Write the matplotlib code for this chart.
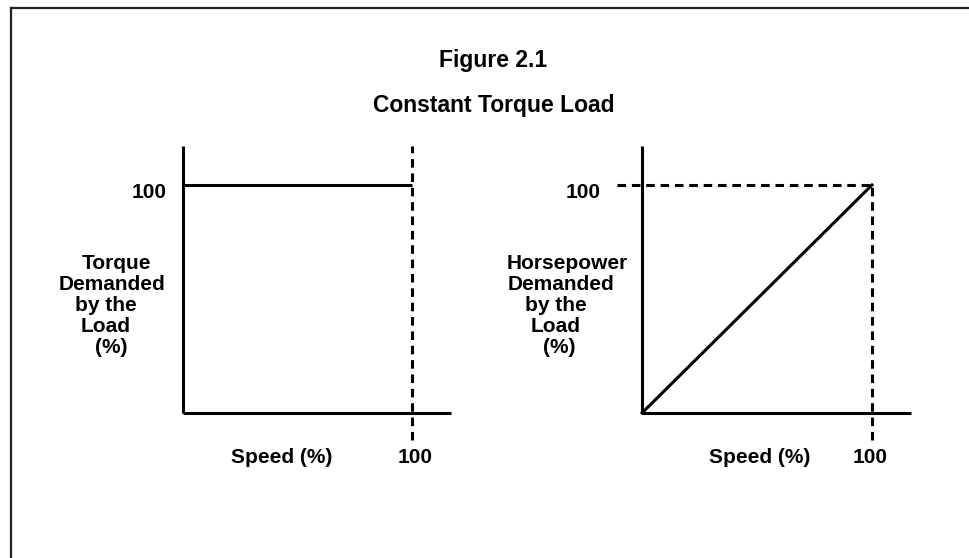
import matplotlib
matplotlib.use("Agg")
import matplotlib.pyplot as plt
from matplotlib.lines import Line2D

plt.rcParams['font.family'] = ['Liberation Sans', 'DejaVu Sans']
plt.rcParams['font.weight'] = 'bold'

# data (percent)
speed = [0, 100]
torque = [100, 100]
horsepower = [0, 100]
tick_label = "100"
axis_end = 117
dash_low = -12

title1 = "Figure 2.1"
title2 = "Constant Torque Load"
ylabel_left = ["Torque", "Demanded", "by the", "Load", "(%)"]
ylabel_right = ["Horsepower", "Demanded", "by the", "Load", "(%)"]
xlabel = "Speed (%)"

W, H = 969, 558
fig = plt.figure(figsize=(W / 100, H / 100), dpi=100)

LW = 2.2
DASH = (0, (2.8, 1.9))
FS = 15


def make_ax(x0_px, xscale):
    # axes with data 0 at x0_px, y 0 at pixel row 413
    xmin, xmax = -15, 120
    ymin, ymax = -25, 120
    yscale = 2.28
    left = (x0_px + xmin * xscale) / W
    width = (xmax - xmin) * xscale / W
    bottom = (H - (413 - ymin * yscale)) / H
    height = (ymax - ymin) * yscale / H
    ax = fig.add_axes([left, bottom, width, height])
    ax.set_xlim(xmin, xmax)
    ax.set_ylim(ymin, ymax)
    ax.axis('off')
    return ax


def stacked_label(centers_px, lines):
    # baselines of the five lines, pixels from the top
    ys = [269, 290, 311, 332, 353]
    for cx, cy, s in zip(centers_px, ys, lines):
        fig.text(cx / W, 1 - cy / H, s, ha='center', va='baseline', fontsize=FS, fontweight='bold')


# left panel: constant torque
ax1 = make_ax(183, 2.29)
ax1.plot([0, 0], [0, axis_end], color='black', lw=LW, clip_on=False, solid_capstyle='butt')
ax1.plot([0, axis_end], [0, 0], color='black', lw=LW, clip_on=False, solid_capstyle='butt')
ax1.plot(speed, torque, color='black', lw=LW, clip_on=False, solid_capstyle='butt')
ax1.plot([speed[1], speed[1]], [dash_low, axis_end], color='black', lw=LW, ls=DASH, clip_on=False)
ax1.text(-7, 96.5, tick_label, ha='right', va='center', fontsize=FS, fontweight='bold')
ax1.text(101.5, -19.5, tick_label, ha='center', va='center', fontsize=FS, fontweight='bold')
ax1.text(43, -19.5, xlabel, ha='center', va='center', fontsize=FS, fontweight='bold')
stacked_label([117, 112, 106, 106, 111], ylabel_left)

# right panel: horsepower rises with speed
ax2 = make_ax(642, 2.30)
ax2.plot([0, 0], [0, axis_end], color='black', lw=LW, clip_on=False, solid_capstyle='butt')
ax2.plot([0, axis_end], [0, 0], color='black', lw=LW, clip_on=False, solid_capstyle='butt')
ax2.plot(speed, horsepower, color='black', lw=LW, clip_on=False)
ax2.plot([speed[1], speed[1]], [dash_low, horsepower[1]], color='black', lw=LW, ls=DASH, clip_on=False)
ax2.plot([-11, speed[1]], [horsepower[1], horsepower[1]], color='black', lw=LW, ls=DASH, clip_on=False)
ax2.text(-18, 96.5, tick_label, ha='right', va='center', fontsize=FS, fontweight='bold')
ax2.text(99, -19.5, tick_label, ha='center', va='center', fontsize=FS, fontweight='bold')
ax2.text(51, -19.5, xlabel, ha='center', va='center', fontsize=FS, fontweight='bold')
stacked_label([567, 561, 556, 556, 559], ylabel_right)

# titles
fig.text(493 / W, 1 - 60 / H, title1, ha='center', va='center', fontsize=16.5, fontweight='bold')
fig.text(494 / W, 1 - 105 / H, title2, ha='center', va='center', fontsize=16.5, fontweight='bold')

# frame (left and top edges)
fig.add_artist(Line2D([10.5 / W, 10.5 / W], [0, 1 - 7.5 / H], transform=fig.transFigure, color='#222222', lw=1.6))
fig.add_artist(Line2D([10.5 / W, 1], [1 - 7.5 / H, 1 - 7.5 / H], transform=fig.transFigure, color='#222222', lw=1.6))

fig.savefig("out.png", dpi=100)
